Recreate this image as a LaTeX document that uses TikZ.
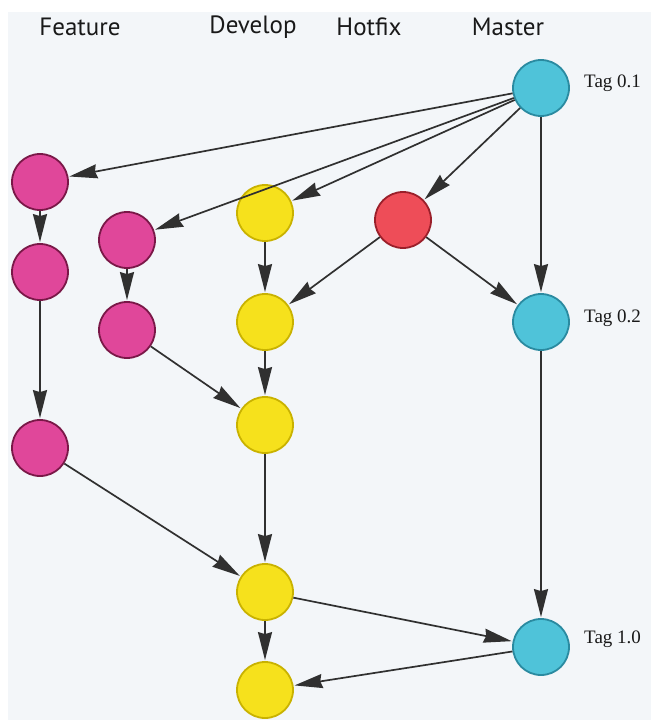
\documentclass[tikz,border=0pt]{standalone}
\usepackage{fontspec}
\setmainfont{Liberation Serif}
\newfontfamily\hdrfont{PT Sans}
\usetikzlibrary{arrows.meta}
\definecolor{bgc}{HTML}{F3F6F9}
\definecolor{featfill}{HTML}{E0479A}
\definecolor{featline}{HTML}{7A1848}
\definecolor{devfill}{HTML}{F6E11C}
\definecolor{devline}{HTML}{C9B200}
\definecolor{hotfill}{HTML}{EE4D58}
\definecolor{hotline}{HTML}{9A1F2A}
\definecolor{mastfill}{HTML}{4FC3D9}
\definecolor{mastline}{HTML}{2A8AA0}
\definecolor{arrc}{HTML}{303030}
\tikzset{
  commit/.style={circle, minimum size=56pt, inner sep=0pt, line width=1.8pt},
  feat/.style={commit, fill=featfill, draw=featline},
  dev/.style={commit, fill=devfill, draw=devline},
  hot/.style={commit, fill=hotfill, draw=hotline},
  mast/.style={commit, fill=mastfill, draw=mastline},
  hdr/.style={font=\hdrfont\fontsize{25}{28}\selectfont, text=black!90, anchor=center},
  tag/.style={font=\fontsize{19}{22}\selectfont, text=black!90, anchor=west, inner sep=0pt},
  flow/.style={-{Stealth[length=28pt,width=14pt,inset=2pt]}, draw=arrc, line width=1.7pt, shorten >=1pt}
}
\begin{document}
\begin{tikzpicture}[x=1pt,y=-1pt]
\useasboundingbox (0,0) rectangle (651,720);
\fill[white] (0,0) rectangle (651,720);
\fill[bgc] (8,12) rectangle (651,720);
\node[hdr] (hF) at (80,27) {Feature};
\node[hdr] (hD) at (253,27) {Develop};
\node[hdr] (hH) at (369,27) {Hotfix};
\node[hdr] (hM) at (508,27) {Master};

\node[mast] (m1) at (541,88) {};
\node[mast] (m2) at (541,322) {};
\node[mast] (m3) at (541,647) {};
\node[tag] (t1) at (584,83) {Tag 0.1};
\node[tag] (t2) at (584,318) {Tag 0.2};
\node[tag] (t3) at (584,639) {Tag 1.0};

\node[feat] (f1) at (40,182) {};
\node[feat] (f2) at (40,272) {};
\node[feat] (f3) at (40,448) {};
\node[feat] (g1) at (127,240) {};
\node[feat] (g2) at (127,330) {};

\node[dev] (d1) at (265,213) {};
\node[dev] (d2) at (265,322) {};
\node[dev] (d3) at (265,425) {};
\node[dev] (d4) at (265,592) {};
\node[dev] (d5) at (265,690) {};

\node[hot] (h1) at (403,220) {};

\draw[flow] (m1) -- (f1);
\draw[flow] (m1) -- (g1);
\draw[flow] (m1) -- (d1);
\draw[flow] (m1) -- (h1);
\draw[flow] (m1) -- (m2);
\draw[flow] (f1) -- (f2);
\draw[flow] (f2) -- (f3);
\draw[flow] (f3) -- (d4);
\draw[flow] (g1) -- (g2);
\draw[flow] (g2) -- (d3);
\draw[flow] (d1) -- (d2);
\draw[flow] (d2) -- (d3);
\draw[flow] (d3) -- (d4);
\draw[flow] (d4) -- (d5);
\draw[flow] (h1) -- (d2);
\draw[flow] (h1) -- (m2);
\draw[flow] (m2) -- (m3);
\draw[flow] (d4) -- (m3);
\draw[flow] (m3) -- (d5);
\end{tikzpicture}
\end{document}
